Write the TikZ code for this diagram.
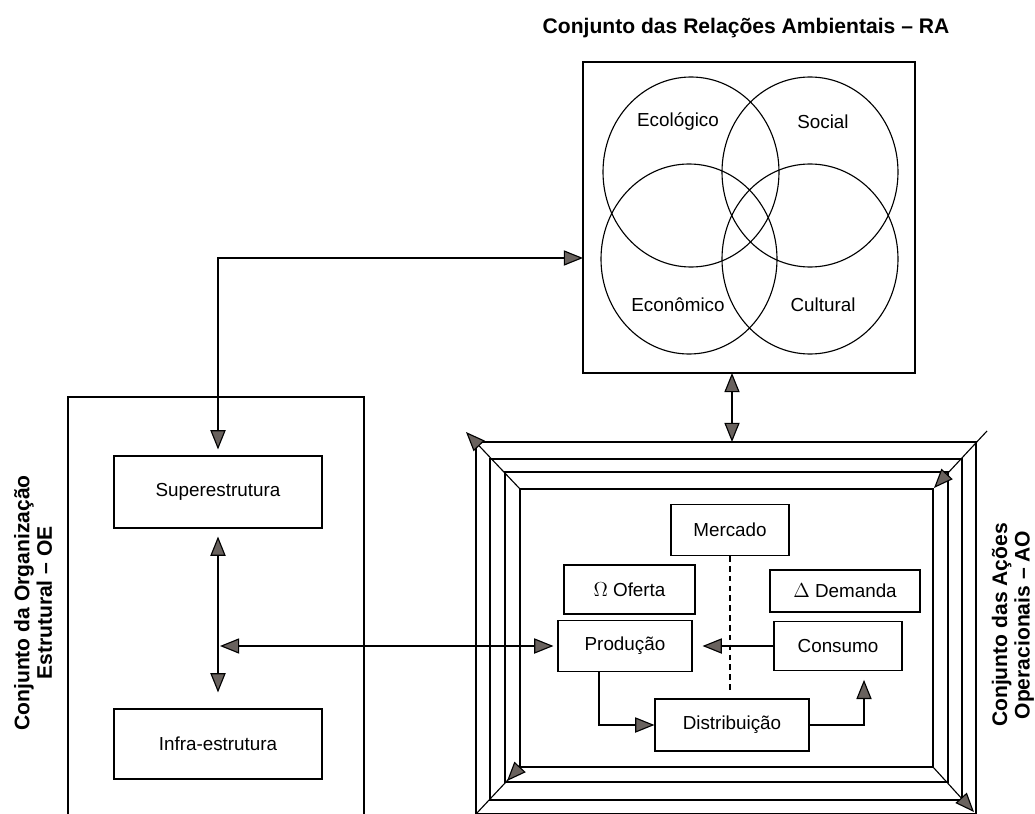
\documentclass[tikz,border=0pt]{standalone}
\usepackage{fontspec}
\setmainfont{Liberation Sans}
\usepackage{xcolor}
\usepackage{tikz}
\usetikzlibrary{arrows.meta}
\definecolor{arrowgray}{RGB}{105,98,94}

\begin{document}
\begin{tikzpicture}[x=0.025cm, y=-0.025cm, line width=0.8pt,
    >={Triangle[length=4.8mm,width=3.8mm,fill=arrowgray]},
    box/.style={draw, rectangle, inner sep=0pt, font=\fontsize{13.4}{16}\selectfont},
    lbl/.style={font=\fontsize{13.4}{16}\selectfont},
    head/.style={font=\bfseries\fontsize{15}{16}\selectfont, align=center}]
    \useasboundingbox (0,0) rectangle (1035,814);
    % relacoes ambientais
    \node[head] (titRA) at (746,28)
        {Conjunto das Relações Ambientais -- RA};
    \node[draw, minimum width=8.3cm, minimum height=7.775cm] (ra) at (749,217.5) {};
    \draw (691,172) ellipse [x radius=88, y radius=95];
    \draw (810,172) ellipse [x radius=88, y radius=95];
    \draw (689,259) ellipse [x radius=88, y radius=95];
    \draw (810,259) ellipse [x radius=88, y radius=95];
    \node[lbl] (eco) at (678,122) {Ecológico};
    \node[lbl] (soc) at (823,122) {Social};
    \node[lbl] (ecn) at (678,305) {Econômico};
    \node[lbl] (cul) at (823,305) {Cultural};
    % organizacao estrutural
    \draw (68,814) |- (364,397) -- (364,814);
    \node[head, rotate=90] (titOE) at (33,603)
        {Conjunto da Organização\\Estrutural -- OE};
    \node[box, minimum width=5.2cm, minimum height=1.8cm] (sup) at (218,492) {Superestrutura};
    \node[box, minimum width=5.2cm, minimum height=1.75cm] (inf) at (218,744) {Infra-estrutura};
    % acoes operacionais
    \draw (476,442) rectangle (976,814);
    \draw (490,459) rectangle (962,800);
    \draw (505,472) rectangle (948,782);
    \draw (520,489) rectangle (933,767);
    \node[head, rotate=90] (titAO) at (1013,625)
        {Conjunto das Ações\\Operacionais -- AO};
    \node[box, minimum width=2.95cm, minimum height=1.275cm] (mer) at (730,530) {Mercado};
    \node[box, minimum width=3.275cm, minimum height=1.225cm] (ofe) at (629.5,589.5) {$\Omega$ Oferta};
    \node[box, minimum width=3.75cm, minimum height=1.05cm] (dem) at (845,591) {$\Delta$ Demanda};
    \node[box, minimum width=3.35cm, minimum height=1.275cm] (pro) at (625,646) {Produção};
    \node[box, minimum width=3.2cm, minimum height=1.225cm] (con) at (838,646) {Consumo};
    \node[box, minimum width=3.85cm, minimum height=1.3cm] (dis) at (732,725) {Distribuição};
    \coordinate (raIn) at (583,258);
    \coordinate (frTop) at (732,442);
    \coordinate (raOut) at (732,373);
    \coordinate (midOE) at (220,646);
    % cantos da moldura
    \draw[->] (520,489) -- (466,432);
    \draw[->] (987,431) -- (934,488);
    \draw (520,767) -- (476,814);
    \draw[->] (520,767) -- (507,781);
    \draw[->] (933,767) -- (974,812);
    % ligacoes
    \draw[<->] (raOut) -- (frTop);
    \draw[<->, shorten <=1.5mm] (sup.north) |- (raIn);
    \draw[<->, shorten <=2mm, shorten >=4mm] (sup.south) -- (inf.north);
    \draw[<->, shorten >=1mm] (midOE) -- (pro.west);
    \draw[->, shorten >=2.5mm] (con.west) -- (pro.east);
    \draw[->] ([xshift=-0.65cm]pro.south) |- (dis.west);
    \draw[->, shorten >=2.2mm] (dis.east) -| ([xshift=0.65cm]con.south);
    \draw[dashed, dash pattern=on 4pt off 3pt] (mer.south) -- ++(0,136);
\end{tikzpicture}
\end{document}
